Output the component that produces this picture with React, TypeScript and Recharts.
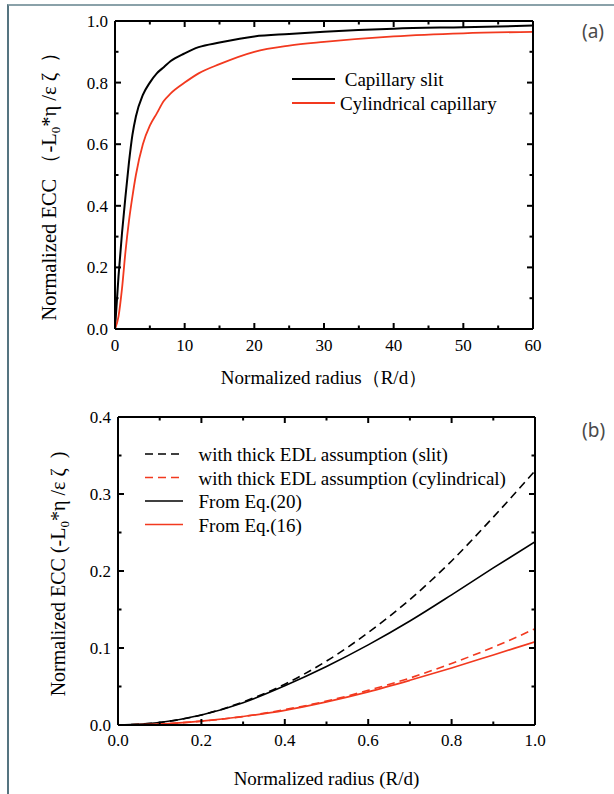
import { Legend, Line, LineChart, XAxis, YAxis } from "recharts";

// ---- panel (a) ----
const radiusA = [0, 0.5, 1, 1.5, 2, 2.5, 3, 4, 5, 6, 7, 8, 10, 12, 15, 20, 25, 30, 40, 50, 60];
const slitA = [0, 0.17, 0.31, 0.43, 0.54, 0.63, 0.69, 0.76, 0.8, 0.83, 0.85, 0.87, 0.895, 0.915, 0.93, 0.95, 0.958, 0.965, 0.975, 0.98, 0.985];
const cylA = [0, 0.04, 0.13, 0.25, 0.35, 0.43, 0.5, 0.6, 0.66, 0.7, 0.74, 0.765, 0.8, 0.83, 0.86, 0.9, 0.92, 0.932, 0.95, 0.96, 0.965];
const xMajorA = [0, 10, 20, 30, 40, 50, 60];
const xMinorA = [5, 15, 25, 35, 45, 55];
const yMajorA = [0, 0.2, 0.4, 0.6, 0.8, 1.0];
const yMinorA = [0.1, 0.3, 0.5, 0.7, 0.9];
const namesA = [" Capillary slit", "Cylindrical capillary"];

// ---- panel (b) ----
const radiusB = [0, 0.1, 0.2, 0.3, 0.4, 0.5, 0.6, 0.7, 0.8, 0.9, 1.0];
const slitThick = [0, 0.0033, 0.013, 0.03, 0.053, 0.083, 0.12, 0.163, 0.213, 0.27, 0.33];
const cylThick = [0, 0.0013, 0.005, 0.011, 0.02, 0.031, 0.045, 0.061, 0.08, 0.101, 0.125];
const eq20 = [0, 0.0033, 0.013, 0.029, 0.051, 0.076, 0.104, 0.135, 0.169, 0.204, 0.238];
const eq16 = [0, 0.0012, 0.005, 0.011, 0.019, 0.03, 0.043, 0.058, 0.074, 0.091, 0.108];
const xMajorB = [0, 0.2, 0.4, 0.6, 0.8, 1.0];
const xMinorB = [0.1, 0.3, 0.5, 0.7, 0.9];
const yMajorB = [0, 0.1, 0.2, 0.3, 0.4];
const yMinorB = [0.05, 0.15, 0.25, 0.35];
const namesB = [
  "with thick EDL assumption (slit)",
  "with thick EDL assumption (cylindrical)",
  "From Eq.(20)",
  "From Eq.(16)",
];

const dataA = radiusA.map((r, i) => ({ r, slit: slitA[i], cyl: cylA[i] }));
const dataB = radiusB.map((r, i) => ({
  r,
  slitThick: slitThick[i],
  cylThick: cylThick[i],
  eq20: eq20[i],
  eq16: eq16[i],
}));

const RED = "#f2391f";
const DASH = "8 5";
const SERIF = "'Liberation Serif', 'Times New Roman', serif";

const frame = { stroke: "#000", strokeWidth: 2 };

type Side = "bottom" | "top" | "left" | "right";

// tick renderer: inward tick (long for major, short for minor) plus the label for majors
function makeTick(side: Side, major: number[], fmt?: (v: number) => string, labelGap = 22) {
  return (props: any) => {
    const x = Number(props.x);
    const y = Number(props.y);
    const v = props.payload.value;
    const isMajor = major.some((m) => Math.abs(m - v) < 1e-9);
    const len = isMajor ? 6 : 3.5;
    let x2 = x;
    let y2 = y;
    if (side === "bottom") y2 = y - len;
    if (side === "top") y2 = y + len;
    if (side === "left") x2 = x + len;
    if (side === "right") x2 = x - len;
    return (
      <g>
        <line x1={x} y1={y} x2={x2} y2={y2} stroke="#000" strokeWidth={2} />
        {fmt && isMajor && side === "bottom" && (
          <text x={x} y={y + labelGap} textAnchor="middle" fontSize={17} fill="#000" fontFamily={SERIF}>
            {fmt(v)}
          </text>
        )}
        {fmt && isMajor && side === "left" && (
          <text x={x - 7} y={y + 6} textAnchor="end" fontSize={17} fill="#000" fontFamily={SERIF}>
            {fmt(v)}
          </text>
        )}
      </g>
    );
  };
}

type Row = { name: string; color: string; dash?: string; width: number };

function LegendBox({ rows, lineLen, rowH, textX }: { rows: Row[]; lineLen: number; rowH: number; textX: number }) {
  return (
    <svg width={320} height={rows.length * rowH + 10} style={{ display: "block", overflow: "visible" }}>
      {rows.map((r, i) => (
        <g key={i}>
          <line x1={0} x2={lineLen} y1={12 + i * rowH} y2={12 + i * rowH} stroke={r.color} strokeWidth={r.width} strokeDasharray={r.dash} />
          <text x={textX} y={12 + i * rowH + 7} fontSize={19} fill="#000" fontFamily={SERIF} style={{ whiteSpace: "pre" }}>
            {r.name}
          </text>
        </g>
      ))}
    </svg>
  );
}

function yTitle(pre: string, post: string, dx: number, dy: number, size: number) {
  return (props: any) => {
    const vb = props.viewBox;
    const x = vb.x + dx;
    const y = vb.y + vb.height / 2 + dy;
    return (
      <text
        x={x}
        y={y}
        transform={`rotate(-90 ${x} ${y})`}
        textAnchor="middle"
        fontSize={size}
        fill="#000"
        fontFamily={SERIF}
        style={{ whiteSpace: "pre" }}
      >
        {pre}
        <tspan dy={4} fontSize={13}>0</tspan>
        <tspan dy={-4}>{post}</tspan>
      </text>
    );
  };
}

// frame with inward major + minor ticks on all four sides
function frameAxes(opts: {
  xDomain: number[];
  yDomain: number[];
  xMajor: number[];
  xMinor: number[];
  yMajor: number[];
  yMinor: number[];
  fmtX: (v: number) => string;
  xGap: number;
  xTitle: string;
  xTitleOffset: number;
  yLabel: (props: any) => any;
}) {
  const { xDomain, yDomain, xMajor, xMinor, yMajor, yMinor, fmtX, xGap, xTitle, xTitleOffset, yLabel } = opts;
  const xTicks = [...xMajor, ...xMinor].sort((a, b) => a - b);
  const yTicks = [...yMajor, ...yMinor].sort((a, b) => a - b);
  const xCommon = {
    dataKey: "r",
    type: "number" as const,
    domain: xDomain,
    allowDataOverflow: true,
    interval: 0 as const,
    ticks: xTicks,
    tickSize: 0,
    tickMargin: 0,
    tickLine: false,
    axisLine: frame,
  };
  const yCommon = {
    type: "number" as const,
    domain: yDomain,
    allowDataOverflow: true,
    interval: 0 as const,
    ticks: yTicks,
    tickSize: 0,
    tickMargin: 0,
    tickLine: false,
    axisLine: frame,
  };
  const fmtY = (v: number) => v.toFixed(1);
  return [
    <XAxis
      key="x"
      xAxisId="x"
      {...xCommon}
      height={40}
      tick={makeTick("bottom", xMajor, fmtX, xGap)}
      label={{ value: xTitle, position: "bottom", offset: xTitleOffset, fill: "#000", fontSize: 19, fontFamily: SERIF, style: { whiteSpace: "pre" } }}
    />,
    <XAxis key="xt" xAxisId="xt" {...xCommon} orientation="top" height={1} tick={makeTick("top", xMajor)} />,
    <YAxis key="y" yAxisId="y" {...yCommon} width={60} tick={makeTick("left", yMajor, fmtY)} label={yLabel} />,
    <YAxis key="yr" yAxisId="yr" {...yCommon} orientation="right" width={1} tick={makeTick("right", yMajor)} />,
  ];
}

const rowsA: Row[] = [
  { name: namesA[0], color: "#000", width: 2 },
  { name: namesA[1], color: RED, width: 1.8 },
];
const rowsB: Row[] = [
  { name: namesB[0], color: "#000", dash: DASH, width: 1.6 },
  { name: namesB[1], color: RED, dash: DASH, width: 1.6 },
  { name: namesB[2], color: "#000", width: 1.6 },
  { name: namesB[3], color: RED, width: 1.6 },
];

export default function App() {
  return (
    <div style={{ position: "absolute", left: 0, top: 0, width: 614, height: 794, background: "#fff", fontFamily: SERIF }}>
      <div style={{ position: "absolute", left: 7, top: 4, width: 607, height: 790, borderLeft: "2px solid #557480", borderTop: "2px solid #8aa1a9", boxSizing: "border-box" }} />
      <div style={{ position: "absolute", left: 582, top: 18, fontSize: 19, color: "#4a4a4a", fontFamily: "'Noto Sans', sans-serif" }}>(a)</div>
      <div style={{ position: "absolute", left: 582, top: 417, fontSize: 19, color: "#4a4a4a", fontFamily: "'Noto Sans', sans-serif" }}>(b)</div>

      <div style={{ position: "absolute", left: 0, top: 0 }}>
        <LineChart width={614} height={397} data={dataA} margin={{ top: 20, right: 80, bottom: 28, left: 55 }}>
          {frameAxes({
            xDomain: [0, 60],
            yDomain: [0, 1],
            xMajor: xMajorA,
            xMinor: xMinorA,
            yMajor: yMajorA,
            yMinor: yMinorA,
            fmtX: (v) => String(v),
            xGap: 22,
            xTitle: "Normalized radius（R/d）",
            xTitleOffset: 2,
            yLabel: yTitle("Normalized ECC （-L", "*η /ε ζ  ）", 1, 6, 20.5),
          })}
          <Legend
            layout="horizontal"
            align="center"
            verticalAlign="middle"
            wrapperStyle={{ left: 292, top: 67, width: 260 }}
            content={() => <LegendBox rows={rowsA} lineLen={43} rowH={24} textX={48} />}
          />
          <Line xAxisId="x" yAxisId="y" type="monotone" dataKey="slit" name={namesA[0]} stroke="#000" strokeWidth={2} dot={false} isAnimationActive={false} />
          <Line xAxisId="x" yAxisId="y" type="monotone" dataKey="cyl" name={namesA[1]} stroke={RED} strokeWidth={1.8} dot={false} isAnimationActive={false} />
        </LineChart>
      </div>

      <div style={{ position: "absolute", left: 0, top: 397 }}>
        <LineChart width={614} height={397} data={dataB} margin={{ top: 19, right: 78, bottom: 29, left: 58 }}>
          {frameAxes({
            xDomain: [0, 1],
            yDomain: [0, 0.4],
            xMajor: xMajorB,
            xMinor: xMinorB,
            yMajor: yMajorB,
            yMinor: yMinorB,
            fmtX: (v) => v.toFixed(1),
            xGap: 21,
            xTitle: "Normalized radius (R/d)",
            xTitleOffset: 7,
            yLabel: yTitle("Normalized ECC (-L", "*η /ε ζ  )", 7, 3, 20),
          })}
          <Legend
            layout="horizontal"
            align="center"
            verticalAlign="middle"
            wrapperStyle={{ left: 145, top: 44.5, width: 360 }}
            content={() => <LegendBox rows={rowsB} lineLen={38} rowH={23.5} textX={53.5} />}
          />
          <Line xAxisId="x" yAxisId="y" type="monotone" dataKey="slitThick" name={namesB[0]} stroke="#000" strokeWidth={1.6} strokeDasharray={DASH} dot={false} isAnimationActive={false} />
          <Line xAxisId="x" yAxisId="y" type="monotone" dataKey="cylThick" name={namesB[1]} stroke={RED} strokeWidth={1.6} strokeDasharray={DASH} dot={false} isAnimationActive={false} />
          <Line xAxisId="x" yAxisId="y" type="monotone" dataKey="eq20" name={namesB[2]} stroke="#000" strokeWidth={1.6} dot={false} isAnimationActive={false} />
          <Line xAxisId="x" yAxisId="y" type="monotone" dataKey="eq16" name={namesB[3]} stroke={RED} strokeWidth={1.6} dot={false} isAnimationActive={false} />
        </LineChart>
      </div>
    </div>
  );
}
